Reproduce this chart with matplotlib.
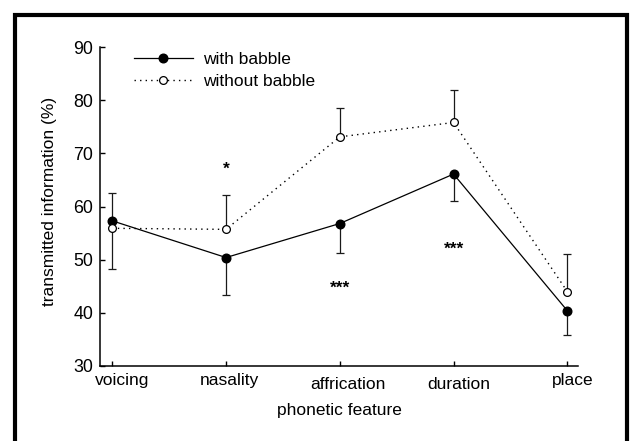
import numpy as np
import matplotlib
matplotlib.use("Agg")
import matplotlib.pyplot as plt
from matplotlib.lines import Line2D
from matplotlib.patches import Rectangle
from matplotlib.transforms import ScaledTranslation

plt.rcParams['font.family'] = ['Liberation Sans', 'DejaVu Sans']

# --- DATA ---
features = ['voicing', 'nasality', 'affrication', 'duration', 'place']
with_babble = [57.3, 50.4, 56.8, 66.1, 40.4]
without_babble = [55.9, 55.7, 73.1, 75.8, 44.0]

# one-sided error bars (lower / upper) for each condition
with_err_lo = [0.0, 7.0, 5.5, 5.1, 4.6]
with_err_hi = [5.3, 0.0, 0.0, 0.0, 0.0]
without_err_lo = [7.7, 0.0, 0.0, 0.0, 0.0]
without_err_hi = [0.0, 6.5, 5.4, 6.1, 7.1]

# significance markers: (feature index, y value, text)
sig_x = [1, 2, 3]
sig_y = [68.1, 45.6, 52.9]
sig_text = ['*', '***', '***']

yticks = [30, 40, 50, 60, 70, 80, 90]

x = np.arange(len(features))

fig = plt.figure(figsize=(6.3, 4.41), dpi=100)
fig.patch.set_facecolor('white')
ax = fig.add_axes([100 / 630, 1 - 366 / 441, 478 / 630, 319 / 441])

# error bars first so the markers sit on top of the caps
ax.errorbar(x, with_babble, yerr=[with_err_lo, with_err_hi], fmt='none',
            ecolor='#1a1a1a', elinewidth=0.9, capsize=2.8, capthick=0.9, zorder=2)
ax.errorbar(x, without_babble, yerr=[without_err_lo, without_err_hi], fmt='none',
            ecolor='#1a1a1a', elinewidth=0.9, capsize=2.8, capthick=0.9, zorder=2)

ax.plot(x, with_babble, color='black', lw=0.9, marker='o', ms=6.2,
        mfc='black', mec='black', zorder=3)
ax.plot(x, without_babble, color='black', lw=1.0, ls=(0, (1, 3)), marker='o',
        ms=5.6, mfc='white', mec='black', mew=0.9, zorder=4)

# significance asterisks, centred on the given value
for xi, yi, s in zip(sig_x, sig_y, sig_text):
    ax.text(xi, yi, s, ha='center', va='baseline', fontsize=12.5, fontweight='bold',
            transform=ax.transData + ScaledTranslation(0, -7.2 / 72, fig.dpi_scale_trans))

ax.set_xlim(-0.108, 4.094)
ax.set_ylim(30, 90)
ax.set_yticks(yticks)
ax.set_xticks(x)
ax.set_xticklabels([])
ax.tick_params(axis='both', direction='in', length=3.6, width=1.0,
               labelsize=12.8, pad=5)
ax.tick_params(axis='x', pad=0)

for side in ['top', 'right']:
    ax.spines[side].set_visible(False)
for side in ['left', 'bottom']:
    ax.spines[side].set_linewidth(1.1)

# category labels sit a little off their ticks
label_dx = [10, 3, 8, 5, 5]
label_dy = [0, 0, -4, -4, 0]
for xi, name, dx, dy in zip(x, features, label_dx, label_dy):
    ax.text(xi, 0, name, ha='center', va='top', fontsize=12.5,
            transform=ax.get_xaxis_transform()
            + ScaledTranslation(dx / 100, (dy - 7) / 100, fig.dpi_scale_trans))

ax.set_ylabel('transmitted information (%)', fontsize=12.5)
ax.yaxis.set_label_coords(-0.09, 0.516)
ax.set_xlabel('phonetic feature', fontsize=12.5)
ax.xaxis.set_label_coords(0.501, -0.117)

handles = [
    Line2D([], [], color='black', lw=0.9, marker='o', ms=6.2, mfc='black', mec='black'),
    Line2D([], [], color='black', lw=1.0, ls=(0, (1, 3)), marker='o', ms=5.6,
           mfc='white', mec='black', mew=0.9),
]
ax.legend(handles, ['with babble', 'without babble'], loc='upper left',
          bbox_to_anchor=(0.071, 0.985), frameon=False, fontsize=12.5,
          handlelength=3.4, handletextpad=0.6, labelspacing=0.38,
          borderpad=0, borderaxespad=0, numpoints=1)

# heavy outer frame around the figure
fig.patches.append(Rectangle((15 / 630, -0.1), 612 / 630, 1.1 - 15 / 441,
                             transform=fig.transFigure, fill=False,
                             edgecolor='black', linewidth=3.0))

fig.savefig('out.png', dpi=100)
